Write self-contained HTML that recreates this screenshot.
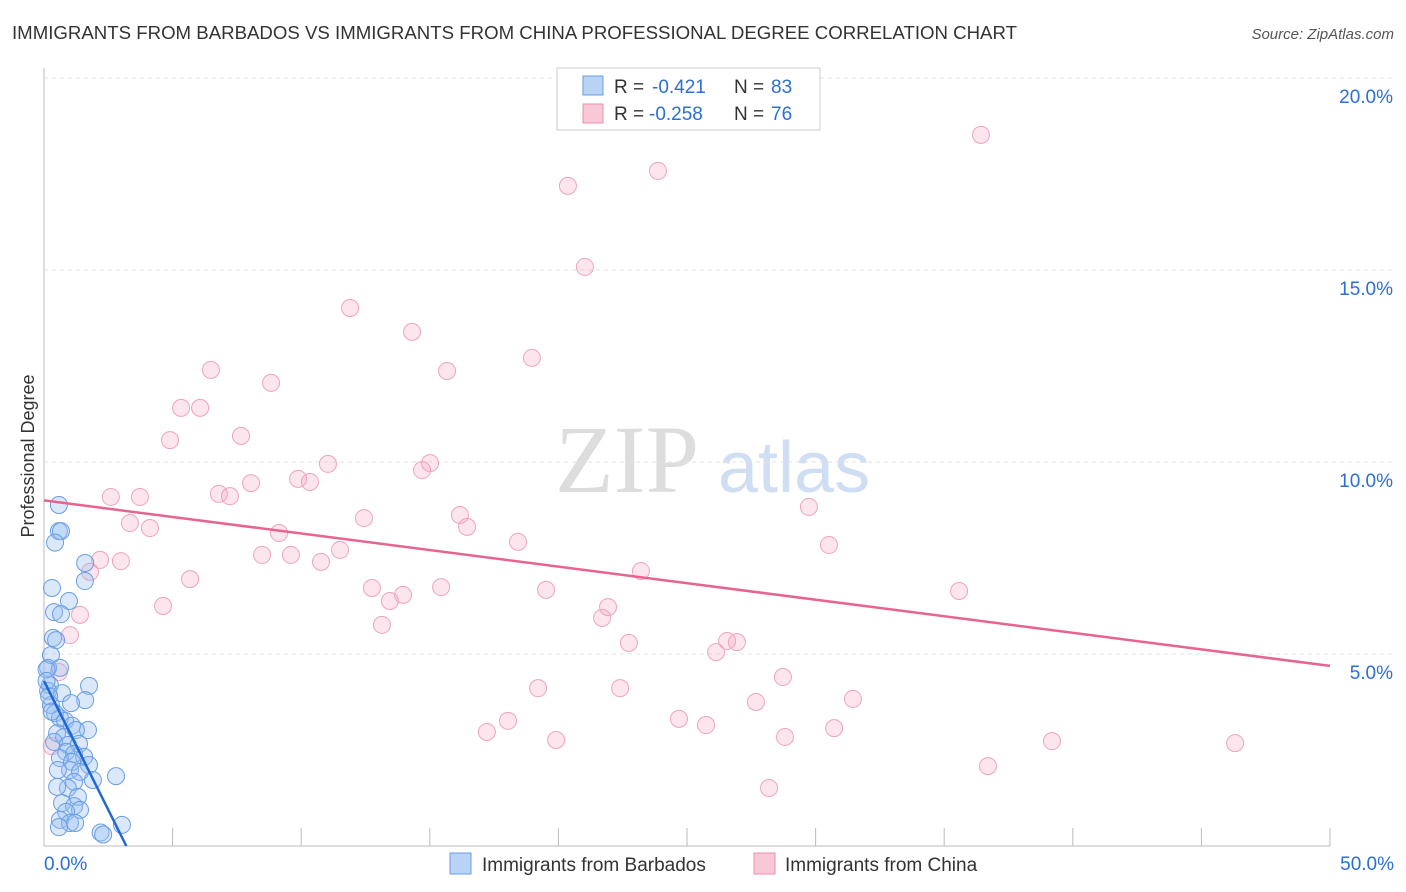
<!DOCTYPE html>
<html><head><meta charset="utf-8"><style>
body{margin:0;background:#fff;font-family:"Liberation Sans",sans-serif;}
svg{display:block}
</style></head><body>
<svg id="chart" width="1406" height="892">
<text x="12" y="39" font-size="18" fill="#333" textLength="1005" lengthAdjust="spacingAndGlyphs">IMMIGRANTS FROM BARBADOS VS IMMIGRANTS FROM CHINA PROFESSIONAL DEGREE CORRELATION CHART</text>
<text x="1394" y="39" font-size="15" fill="#555" font-style="italic" text-anchor="end">Source: ZipAtlas.com</text>
<text x="555" y="492" font-size="96" fill="#ddd" font-family="Liberation Serif,serif">ZIP</text>
<text x="718" y="492" font-size="72" fill="#cfdef2">atlas</text>
<text transform="translate(34,456) rotate(-90)" font-size="18" fill="#333" text-anchor="middle">Professional Degree</text>
<g id="grid"></g><g id="pts"></g><g id="trends"></g>
<g>
<rect x="557" y="68" width="263" height="62" fill="#fff" stroke="#ccc"/>
<rect x="583" y="76" width="20" height="19" fill="#b9d3f5" stroke="#6a9ee6"/>
<rect x="583" y="104" width="20" height="19" fill="#f9c8d6" stroke="#ea8fab"/>
<text x="614" y="93" font-size="19" fill="#333">R =</text>
<text x="652" y="93" font-size="19" fill="#2a6fd6">-0.421</text>
<text x="734" y="93" font-size="19" fill="#333">N =</text>
<text x="771" y="93" font-size="19" fill="#2a6fd6">83</text>
<text x="614" y="120" font-size="19" fill="#333">R =</text>
<text x="649" y="120" font-size="19" fill="#2a6fd6">-0.258</text>
<text x="734" y="120" font-size="19" fill="#333">N =</text>
<text x="771" y="120" font-size="19" fill="#2a6fd6">76</text>
</g>
<g>
<rect x="450" y="853" width="21" height="21" fill="#b9d3f5" stroke="#6a9ee6"/>
<text x="482" y="871" font-size="19" fill="#333">Immigrants from Barbados</text>
<rect x="754" y="853" width="21" height="21" fill="#f9c8d6" stroke="#ea8fab"/>
<text x="785" y="871" font-size="19" fill="#333">Immigrants from China</text>
</g>
</svg>
<script>
const xTicks=[0,5,10,15,20,25,30,35,40,45,50];
const yTicks=[5,10,15,20];
const chinaX=[36.43,23.87,20.37,21.03,11.90,14.31,18.97,15.67,6.49,8.83,5.33,6.07,4.90,7.66,11.04,15.01,14.70,9.88,10.34,6.80,7.23,8.05,2.60,3.73,16.17,16.45,12.44,3.34,4.12,29.74,9.14,18.43,30.52,11.51,8.48,9.60,10.77,2.18,2.99,1.79,5.68,23.21,12.75,15.44,19.52,13.96,13.45,35.58,21.93,4.63,1.40,13.14,21.70,1.01,22.74,26.56,26.94,26.13,0.58,28.73,19.21,22.40,27.68,31.45,24.69,18.04,25.74,17.22,30.72,19.91,28.81,39.19,46.31,36.70,28.19,0.30];
const chinaY=[18.52,17.58,17.19,15.08,14.01,13.39,12.71,12.37,12.40,12.06,11.41,11.41,10.57,10.68,9.95,9.97,9.79,9.56,9.48,9.17,9.11,9.45,9.09,9.09,8.62,8.31,8.54,8.41,8.28,8.83,8.15,7.92,7.84,7.71,7.58,7.58,7.40,7.45,7.42,7.14,6.95,7.16,6.72,6.74,6.67,6.54,6.38,6.64,6.22,6.25,6.02,5.76,5.94,5.49,5.29,5.34,5.31,5.05,4.53,4.40,4.11,4.11,3.75,3.83,3.31,3.26,3.15,2.97,3.07,2.76,2.84,2.73,2.68,2.08,1.51,2.60];
const barbX=[0.58,0.58,0.66,0.43,1.6,1.59,0.31,0.97,0.39,0.66,0.35,0.47,0.27,0.16,0.62,0.23,1.75,0.16,0.7,1.6,1.05,0.27,0.43,0.62,0.82,1.09,1.71,1.24,0.51,0.78,0.39,0.93,1.36,0.86,1.17,0.62,1.56,1.09,1.75,1.01,0.54,1.40,1.9,1.17,2.8,0.93,0.51,1.32,0.70,1.17,1.40,0.86,0.62,1.01,1.21,0.58,3.03,2.2,2.3,0.1,0.2,0.3,0.1];
const barbY=[8.88,8.2,8.2,7.9,7.37,6.9,6.72,6.38,6.09,6.04,5.42,5.36,4.97,4.64,4.64,4.19,4.17,4.04,3.98,3.8,3.72,3.67,3.46,3.33,3.26,3.13,3.02,3.02,2.94,2.84,2.71,2.63,2.66,2.45,2.40,2.29,2.32,2.19,2.11,1.98,1.98,1.93,1.72,1.67,1.82,1.51,1.54,1.28,1.12,1.04,0.94,0.89,0.68,0.60,0.60,0.49,0.55,0.35,0.3,4.6,3.9,3.5,4.3];
const chinaTrend=[[0,9.0],[50,4.69]];
const barbTrend=[[0,4.3],[3.2,0]];
const X=v=>44+v*25.72, Y=v=>846-v*38.4;
const NS='http://www.w3.org/2000/svg';
function mk(tag,attrs,parent){const e=document.createElementNS(NS,tag);for(const k in attrs)e.setAttribute(k,attrs[k]);parent.appendChild(e);return e;}
const grid=document.getElementById('grid');
let ax=mk('line',{x1:44,y1:68,x2:44,y2:846,stroke:'#bbb'},grid);


let bx=mk('line',{x1:44,y1:846,x2:1330,y2:846,stroke:'#bbb'},grid);


yTicks.forEach(t=>{
 const g=mk('line',{x1:44,x2:1394,y1:Y(t),y2:Y(t),stroke:'#e2e2e2','stroke-dasharray':'4,4'},grid);
 
 
 const l=mk('text',{x:1393,y:Y(t)+25,'font-size':19,fill:'#2a6fd6','text-anchor':'end'},grid);
 l.textContent=t.toFixed(1)+'%';
 
 
});
xTicks.forEach(t=>{
 const k=mk('line',{x1:X(t),x2:X(t),y1:828,y2:846,stroke:'#bbb'},grid);
 
 
});
[[0,'start',44],[50,'end',1394]].forEach(([t,a,px])=>{
 const l=mk('text',{x:px,y:870,'font-size':19,fill:'#2a6fd6','text-anchor':a},grid);
 l.textContent=t.toFixed(1)+'%';
 
 
});
const pts=document.getElementById('pts');
chinaX.forEach((x,i)=>{
 const c=mk('circle',{cx:X(x),cy:Y(chinaY[i]),r:8.5,fill:'rgba(245,170,195,0.3)',stroke:'#eea4bb','stroke-width':1},pts);
 
 
});
barbX.forEach((x,i)=>{
 const c=mk('circle',{cx:X(x),cy:Y(barbY[i]),r:8.5,fill:'rgba(150,190,240,0.35)',stroke:'#6a9ee3','stroke-width':1},pts);
 
 
});
const tr=document.getElementById('trends');
let t1=mk('line',{x1:X(chinaTrend[0][0]),y1:Y(chinaTrend[0][1]),x2:X(chinaTrend[1][0]),y2:Y(chinaTrend[1][1]),stroke:'#e8648f','stroke-width':2.5},tr);


let t2=mk('line',{x1:X(barbTrend[0][0]),y1:Y(barbTrend[0][1]),x2:X(barbTrend[1][0]),y2:Y(barbTrend[1][1]),stroke:'#1f66d6','stroke-width':2.5},tr);


</script>
</body></html>
